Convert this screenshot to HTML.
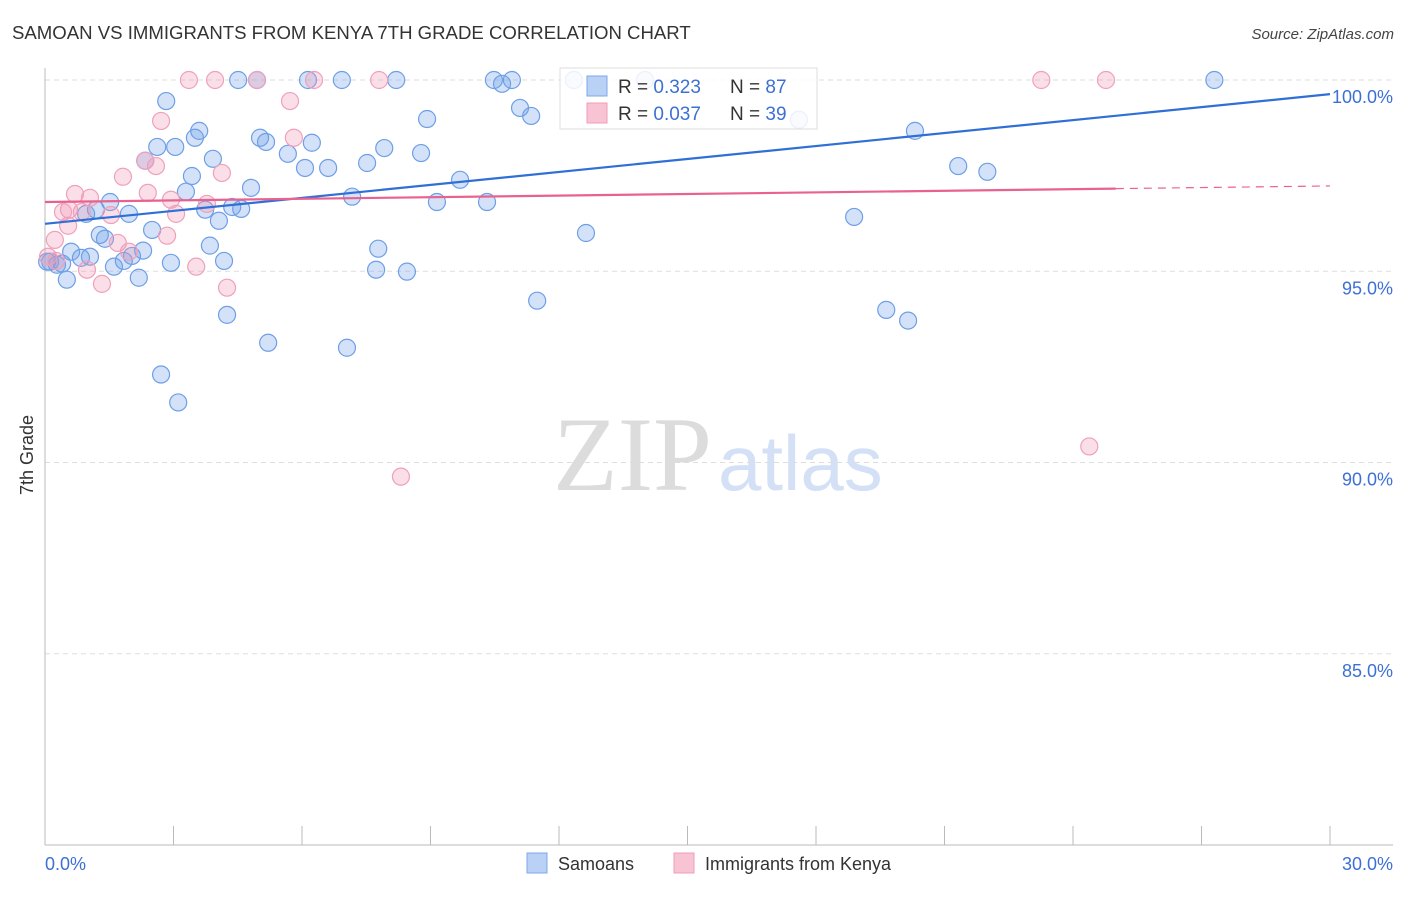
<!DOCTYPE html>
<html><head><meta charset="utf-8"><style>
body{margin:0;background:#fff;width:1406px;height:892px;overflow:hidden;font-family:"Liberation Sans",sans-serif}
svg text{font-family:"Liberation Sans",sans-serif}
</style></head><body>
<svg id="chart" width="1406" height="892" xmlns="http://www.w3.org/2000/svg">
<text x="12" y="39" font-size="18.6" fill="#333">SAMOAN VS IMMIGRANTS FROM KENYA 7TH GRADE CORRELATION CHART</text>
<text x="1394" y="39" font-size="15" fill="#444" font-style="italic" text-anchor="end">Source: ZipAtlas.com</text>
<text x="553" y="490" font-size="106" fill="#dcdcdc" style="font-family:'Liberation Serif',serif">ZIP</text>
<text x="718" y="490" font-size="78" fill="#d3e0f5">atlas</text>
<text transform="translate(33,455) rotate(-90)" font-size="18" fill="#333" text-anchor="middle">7th Grade</text>
<g id="grid"></g><g id="axes"></g><g id="pts"></g><g id="lines"></g>
<g>
<rect x="560" y="68" width="257" height="61" fill="#fff" fill-opacity="0.85" stroke="#ddd"/>
<rect x="587" y="76" width="20" height="20" fill="#b9d1f5" stroke="#7fa8e8"/>
<rect x="587" y="103" width="20" height="20" fill="#f8c3d3" stroke="#ef9db8"/>
<text x="618" y="93" font-size="19" fill="#333">R = <tspan fill="#3c70d4">0.323</tspan></text>
<text x="730" y="93" font-size="19" fill="#333">N = <tspan fill="#3c70d4">87</tspan></text>
<text x="618" y="120" font-size="19" fill="#333">R = <tspan fill="#3c70d4">0.037</tspan></text>
<text x="730" y="120" font-size="19" fill="#333">N = <tspan fill="#3c70d4">39</tspan></text>
</g>
<g><rect x="527" y="853" width="20" height="20" fill="#b9d1f5" stroke="#7fa8e8"/><text x="558" y="870" font-size="18" fill="#333">Samoans</text></g>
<g><rect x="674" y="853" width="20" height="20" fill="#f8c3d3" stroke="#ef9db8"/><text x="705" y="870" font-size="18" fill="#333">Immigrants from Kenya</text></g>
</svg>
<script>
const yTicks=[100,95,90,85];
const yTickLabels=["100.0%","95.0%","90.0%","85.0%"];
const xTickLabels=["0.0%","30.0%"];
const blueX=[4.51,4.95,6.14,6.93,8.20,10.48,10.90,10.67,12.35,14.01,27.30,2.83,11.09,11.35,8.92,17.60,3.60,3.50,20.31,5.02,5.16,3.04,2.62,6.23,7.92,8.78,5.67,3.92,2.34,21.32,22.00,6.07,6.61,7.52,3.43,9.69,4.81,3.29,7.17,9.15,10.32,1.52,1.19,3.74,4.37,4.58,1.96,0.96,18.89,4.06,2.50,12.63,1.28,1.40,3.85,7.78,2.29,0.61,1.05,2.03,0.84,1.84,4.18,2.94,0.12,0.28,0.40,1.61,7.73,8.45,0.51,2.19,11.49,19.64,20.15,4.25,5.21,7.05,2.71,3.11,0.05];
const blueY=[100,100,100,100,100,100,100,99.9,100,100,100,99.45,99.27,99.06,98.98,98.96,98.67,98.49,98.67,98.49,98.38,98.25,98.25,98.36,98.22,98.09,98.07,97.94,97.89,97.75,97.60,97.70,97.70,97.83,97.49,97.39,97.18,97.08,96.95,96.81,96.81,96.81,96.61,96.61,96.68,96.63,96.50,96.50,96.42,96.32,96.08,96.00,95.95,95.85,95.67,95.59,95.54,95.51,95.38,95.40,95.35,95.27,95.27,95.22,95.25,95.17,95.20,95.12,95.04,94.99,94.78,94.83,94.23,93.99,93.71,93.86,93.13,93.00,92.30,91.57,95.25];
const pinkX=[3.36,3.97,4.95,6.28,7.80,23.26,24.77,5.72,2.71,5.81,2.34,2.59,4.13,1.82,0.70,2.40,1.05,2.94,0.56,0.86,0.42,1.54,3.06,3.78,0.54,2.85,0.23,1.70,1.96,3.53,0.98,1.33,4.25,24.38,8.31,0.07,0.26];
const pinkY=[100,100,100,100,100,100,100,99.45,98.93,98.49,97.89,97.75,97.57,97.47,97.02,97.05,96.92,96.87,96.61,96.55,96.55,96.47,96.50,96.76,96.19,95.93,95.82,95.74,95.51,95.12,95.04,94.67,94.57,90.42,89.63,95.38,95.27];
const blueTrend=[96.24,99.63];
const pinkTrend=[96.81,97.23];
const pinkSolidEnd=25;
const NS="http://www.w3.org/2000/svg";
const xs=v=>45+v/30*1285;
const ys=v=>845-(v-80)/20*765;
function mk(tag,attrs,parent){const e=document.createElementNS(NS,tag);for(const k in attrs)e.setAttribute(k,attrs[k]);parent.appendChild(e);return e;}
const grid=document.getElementById('grid'),axes=document.getElementById('axes'),pts=document.getElementById('pts'),lines=document.getElementById('lines');
yTicks.forEach((t,i)=>{
 const l=mk('line',{x1:45,x2:1393,y1:ys(t),y2:ys(t),stroke:'#ddd','stroke-dasharray':'5,4'},grid);
 
 
 const tx=mk('text',{x:1393,y:ys(t)+23,'font-size':18,fill:'#3c70d4','text-anchor':'end'},grid);
 tx.textContent=yTickLabels[i];
 
 
});
const ya=mk('line',{x1:45,x2:45,y1:68,y2:845,stroke:'#bbb'},axes);


const xa=mk('line',{x1:45,x2:1393,y1:845,y2:845,stroke:'#bbb'},axes);


for(let i=0;i<=10;i++){
 const t=mk('line',{x1:xs(i*3),x2:xs(i*3),y1:826,y2:845,stroke:'#bbb'},axes);
 
 
}
const xl0=mk('text',{x:45,y:870,'font-size':18,fill:'#3c70d4'},axes);xl0.textContent=xTickLabels[0];


const xl1=mk('text',{x:1393,y:870,'font-size':18,fill:'#3c70d4','text-anchor':'end'},axes);xl1.textContent=xTickLabels[1];


blueX.forEach((x,i)=>{
 const c=mk('circle',{cx:xs(x),cy:ys(blueY[i]),r:8.5,fill:'rgba(110,160,232,0.3)',stroke:'#6e9fe6','stroke-width':1.2},pts);
 
 
});
pinkX.forEach((x,i)=>{
 const c=mk('circle',{cx:xs(x),cy:ys(pinkY[i]),r:8.5,fill:'rgba(240,150,180,0.3)',stroke:'#f0a0bb','stroke-width':1.2},pts);
 
 
});
const bl=mk('line',{x1:xs(0),y1:ys(blueTrend[0]),x2:xs(30),y2:ys(blueTrend[1]),stroke:'#2f6fd6','stroke-width':2.2},lines);


const pm=pinkTrend[0]+(pinkTrend[1]-pinkTrend[0])*pinkSolidEnd/30;
const pl=mk('line',{x1:xs(0),y1:ys(pinkTrend[0]),x2:xs(pinkSolidEnd),y2:ys(pm),stroke:'#e9628f','stroke-width':2.2},lines);


const pd=mk('line',{x1:xs(pinkSolidEnd),y1:ys(pm),x2:xs(30),y2:ys(pinkTrend[1]),stroke:'#e9628f','stroke-width':1.2,'stroke-dasharray':'8,6'},lines);


</script>
</body></html>
